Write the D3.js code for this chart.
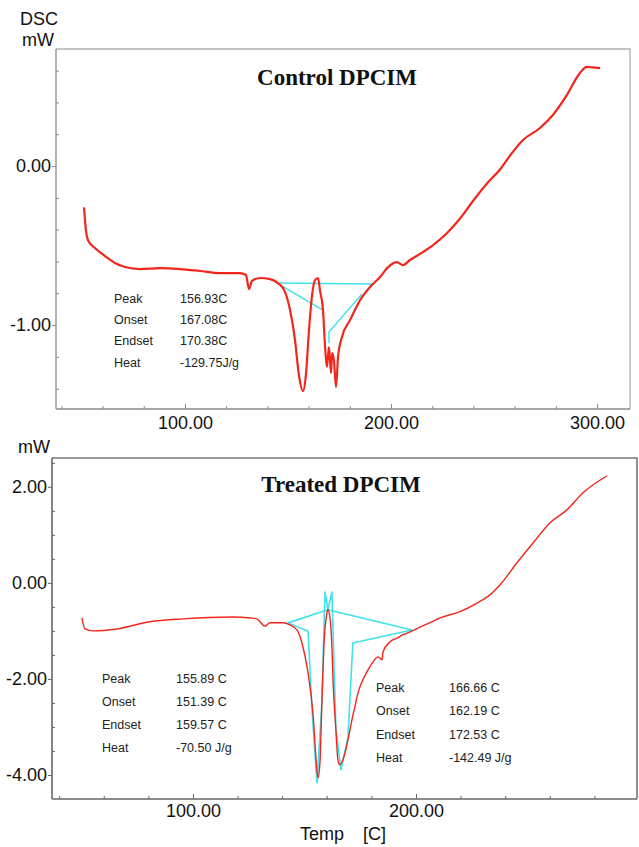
<!DOCTYPE html>
<html><head><meta charset="utf-8">
<script src="https://cdn.jsdelivr.net/npm/d3@7"></script>
<style>
html,body{margin:0;padding:0;background:#fff;}
svg{display:block;font-family:"Liberation Sans",Arial,sans-serif;}
</style></head>
<body><svg id="c" width="639" height="847"></svg>
<script>
// ---------- DATA ----------
const controlTemp = [51,51.9,52.9,56.3,61.2,66,70.9,78.2,87.9,97.6,107.3,117,126.7,129.6,131.1,132.5,136.4,141.3,145.1,148.5,151,153.4,155.3,157.3,158.7,160.2,161.7,163.1,164.6,165.5,167,168,168.9,169.9,170.9,171.4,172.3,173.3,174.3,176.2,180.1,185,189.8,194.7,198.1,202.9,205.8,209.2,215.5,220.4,227.2,233.5,239.8,246.6,253,258,264.1,272.3,278.6,285.4,291.7,295.1,298,301.5];
const controlDSC = [-0.26,-0.40,-0.465,-0.516,-0.566,-0.61,-0.635,-0.648,-0.642,-0.648,-0.66,-0.673,-0.673,-0.685,-0.774,-0.723,-0.704,-0.711,-0.736,-0.79,-0.906,-1.094,-1.314,-1.415,-1.314,-1.031,-0.811,-0.717,-0.704,-0.78,-0.906,-1.138,-1.264,-1.138,-1.302,-1.176,-1.22,-1.39,-1.2,-1.075,-0.969,-0.843,-0.761,-0.698,-0.642,-0.604,-0.623,-0.591,-0.541,-0.497,-0.421,-0.33,-0.22,-0.11,-0.02,0.07,0.164,0.239,0.321,0.447,0.585,0.623,0.62,0.616];
const controlBaseTemp = [[144.7,190.8],[144.7,167.0],[169.9,169.9,185.9]];
const controlBaseDSC  = [[-0.736,-0.742],[-0.736,-0.906],[-1.113,-1.044,-0.805]];
const controlStatLabels = ["Peak","Onset","Endset","Heat"];
const controlStatValues = ["156.93C","167.08C","170.38C","-129.75J/g"];

const treatedTemp = [50.2,51.6,55.2,65.9,80.7,95.5,117.9,125.6,128.7,132.3,134.5,140.4,143.5,146.6,149.3,151.6,153.8,155.6,156.1,157,157.8,158.7,160.1,160.5,161.4,162.3,162.8,164.1,165,165.9,166.8,168.2,169.5,171.3,172.6,174,176.2,178.5,180.7,183,184.8,185.2,188.3,191.5,194.2,197.3,201.8,206.3,210.8,219.7,227.4,233.2,237.7,245.3,252.5,260.1,267.7,274.9,285.7];
const treatedDSC = [-0.73,-0.96,-1.0,-0.96,-0.81,-0.75,-0.71,-0.73,-0.75,-0.90,-0.83,-0.83,-0.875,-0.98,-1.33,-1.875,-2.71,-3.9,-4.06,-3.69,-2.5,-1.33,-0.625,-0.56,-0.71,-1.33,-2.02,-3.06,-3.69,-3.79,-3.73,-3.54,-3.27,-2.85,-2.58,-2.29,-2.02,-1.81,-1.65,-1.54,-1.60,-1.44,-1.23,-1.15,-1.08,-1.02,-0.92,-0.83,-0.73,-0.60,-0.42,-0.25,-0.04,0.42,0.83,1.25,1.52,1.875,2.23];
const treatedBaseTemp = [[142.6,160.5,198.2],[142.6,151.6,153.4,155.6],[155.6,157.8,159.2,160.5,162.3,164.1,166.4],[198.2,171.7,169.5,166.4]];
const treatedBaseDSC  = [[-0.833,-0.56,-0.98],[-0.833,-1.0,-2.65,-4.17],[-4.17,-2.5,-0.19,-0.56,-0.19,-3.06,-3.9],[-0.98,-1.25,-3.21,-3.9]];
const treatedStatLabels = ["Peak","Onset","Endset","Heat"];
const treatedStatValues1 = ["155.89 C","151.39 C","159.57 C","-70.50 J/g"];
const treatedStatValues2 = ["166.66 C","162.19 C","172.53 C","-142.49 J/g"];

const controlYTicks = [0,-1];
const controlYMinor = [0.6,0.4,0.2,-0.2,-0.4,-0.6,-0.8,-1.2,-1.4];
const controlXTicks = [100,200,300];
const controlXMinor = [40,60,80,120,140,160,180,220,240,260,280];
const treatedYTicks = [2,0,-2,-4];
const treatedYMinor = [2.5,1.5,1,0.5,-0.5,-1,-1.5,-2.5,-3,-3.5];
const treatedXTicks = [100,200];
const treatedXMinor = [40,60,80,120,140,160,180,220,240,260,280];

// ---------- DRAW ----------
const svg = d3.select("#c");
const f2 = d3.format(".2f");
const fmt = v => f2(v).replace("\u2212","-");

function panel(o){
  const x = d3.scaleLinear().domain(o.xDom).range([o.L,o.R]);
  const y = d3.scaleLinear().domain(o.yDom).range([o.B,o.T]);
  const g = svg.append("g");
  g.append("path").attr("d",`M${o.L},${o.T}H${o.R}V${o.B}`).attr("fill","none")
    .attr("stroke",o.frameColor).attr("stroke-width",o.frameW);
  const ya = g.append("g").attr("transform",`translate(${o.L},0)`)
    .call(d3.axisLeft(y).tickValues(o.yTicks).tickFormat(fmt).tickSize(4).tickSizeOuter(0).tickPadding(1));
  ya.select(".domain").attr("stroke",o.axisColor).attr("stroke-width",o.frameW).attr("d",`M0,${o.T}V${o.B}`);
  ya.selectAll(".tick line").attr("stroke",o.axisColor);
  ya.selectAll("text").attr("font-size",18).attr("fill","#111").attr("font-family","Liberation Sans, Arial");
  const ym = g.append("g").attr("transform",`translate(${o.L},0)`)
    .call(d3.axisLeft(y).tickValues(o.yMinor).tickFormat("").tickSize(-3).tickSizeOuter(0));
  ym.select(".domain").remove();
  ym.selectAll(".tick line").attr("stroke",o.axisColor);
  const xa = g.append("g").attr("transform",`translate(0,${o.B})`)
    .call(d3.axisBottom(x).tickValues(o.xTicks).tickFormat(fmt).tickSize(-5).tickSizeOuter(0).tickPadding(o.xPad));
  xa.select(".domain").attr("stroke",o.axisColor).attr("stroke-width",o.frameW).attr("d",`M${o.L},0H${o.R}`);
  xa.selectAll(".tick line").attr("stroke",o.axisColor);
  xa.selectAll("text").attr("font-size",18).attr("fill","#111").attr("font-family","Liberation Sans, Arial");
  const xm = g.append("g").attr("transform",`translate(0,${o.B})`)
    .call(d3.axisBottom(x).tickValues(o.xMinor).tickFormat("").tickSize(-3).tickSizeOuter(0));
  xm.select(".domain").remove();
  xm.selectAll(".tick line").attr("stroke",o.axisColor);
  const line = d3.line().x(d=>x(d[0])).y(d=>y(d[1]));
  const smooth = d3.line().x(d=>x(d[0])).y(d=>y(d[1])).curve(d3.curveMonotoneX);
  o.baseT.forEach((ts,i)=>{
    g.append("path").datum(ts.map((t,j)=>[t,o.baseV[i][j]])).attr("d",line)
      .attr("fill","none").attr("stroke","#3fe3ea").attr("stroke-width",o.cyanW).attr("stroke-linejoin","round");
  });
  g.append("path").datum(o.temp.map((t,i)=>[t,o.dsc[i]])).attr("d",smooth)
    .attr("fill","none").attr("stroke","#f2261c").attr("stroke-width",o.redW).attr("stroke-linejoin","round");
  return {x,y,g};
}

panel({L:56,R:630,T:49,B:409,xDom:[37.4,316],yDom:[-1.528,0.736],
  yTicks:controlYTicks,yMinor:controlYMinor,xTicks:controlXTicks,xMinor:controlXMinor,xPad:7,
  frameColor:"#b0b0b0",axisColor:"#8a8a8a",frameW:1.3,
  baseT:controlBaseTemp,baseV:controlBaseDSC,temp:controlTemp,dsc:controlDSC,redW:2.2,cyanW:1.4});

panel({L:52,R:637,T:458,B:799,xDom:[36.8,299.1],yDom:[-4.5,2.6],
  yTicks:treatedYTicks,yMinor:treatedYMinor,xTicks:treatedXTicks,xMinor:treatedXMinor,xPad:5,
  frameColor:"#777",axisColor:"#666",frameW:1.6,
  baseT:treatedBaseTemp,baseV:treatedBaseDSC,temp:treatedTemp,dsc:treatedDSC,redW:1.4,cyanW:1.6});

svg.append("text").attr("x",20).attr("y",25).attr("font-size",18).attr("fill","#111").text("DSC");
svg.append("text").attr("x",22).attr("y",46).attr("font-size",18).attr("fill","#111").text("mW");
svg.append("text").attr("x",18).attr("y",453).attr("font-size",18).attr("fill","#111").text("mW");
svg.append("text").attr("x",300).attr("y",840).attr("font-size",18).attr("fill","#111").text("Temp");
svg.append("text").attr("x",363).attr("y",840).attr("font-size",18).attr("fill","#111").text("[C]");

svg.append("text").attr("x",337).attr("y",85).attr("text-anchor","middle").attr("font-family","Liberation Serif, Times New Roman, serif")
  .attr("font-weight","bold").attr("font-size",23).attr("fill","#111").text("Control DPCIM");
svg.append("text").attr("x",341).attr("y",492).attr("text-anchor","middle").attr("font-family","Liberation Serif, Times New Roman, serif")
  .attr("font-weight","bold").attr("font-size",23).attr("fill","#111").text("Treated DPCIM");

function stats(labels, values, xl, xv, y0, dy){
  labels.forEach((l,i)=>{
    svg.append("text").attr("x",xl).attr("y",y0+i*dy).attr("font-size",12.5).attr("fill","#222").text(l);
    svg.append("text").attr("x",xv).attr("y",y0+i*dy).attr("font-size",12.5).attr("fill","#222").text(values[i]);
  });
}
stats(controlStatLabels, controlStatValues, 114, 180, 303, 21.2);
stats(treatedStatLabels, treatedStatValues1, 102, 176, 683, 23);
stats(treatedStatLabels, treatedStatValues2, 376, 449, 692, 23.3);
</script></body></html>
